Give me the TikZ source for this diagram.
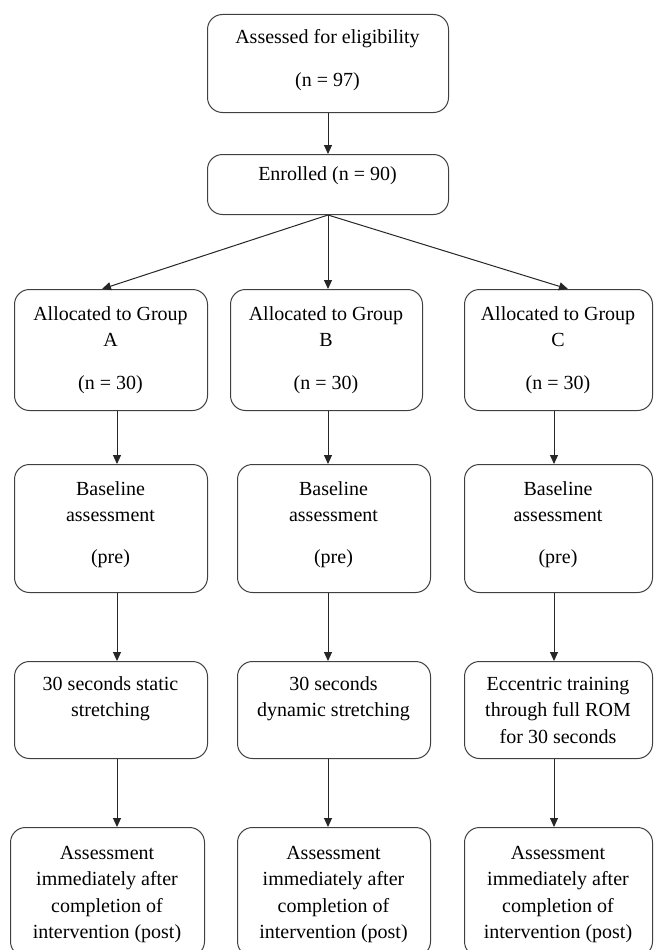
\documentclass[tikz,border=0pt]{standalone}
\usepackage{fontspec}
\setmainfont{Liberation Serif}
\newfontfamily\tnr{Liberation Serif}
\usetikzlibrary{arrows.meta,calc}
\tikzset{
  box/.style={draw=black!75, line width=1pt, rounded corners=15pt, inner sep=0pt, anchor=north west},
  txt/.style={inner sep=0pt, align=center, anchor=base, font=\tnr\fontsize{20}{26.5}\selectfont},
  arr/.style={draw=black!85, line width=1pt, -{Triangle[length=9pt,width=8pt]}}
}
\newcommand{\mybox}[5]{% name, x1, y1, x2, y2
  \path let \p1=(#2,#3), \p2=(#4,#5) in node[box, minimum width=\x2-\x1, minimum height=\y1-\y2] (#1) at (\p1) {};}
\begin{document}
\begin{tikzpicture}[x=1pt,y=-1pt]
\clip (0,0) rectangle (654,950);
\fill[white] (0,0) rectangle (654,950);
% boxes
\mybox{top}{207}{14}{448}{112}
\mybox{enr}{207}{154}{448}{214}
\mybox{gA}{14}{289}{207}{410}
\mybox{gB}{230}{289}{422}{410}
\mybox{gC}{464}{289}{652}{410}
\mybox{bA}{14}{464}{207}{592}
\mybox{bB}{237}{464}{430}{592}
\mybox{bC}{464}{464}{652}{592}
\mybox{iA}{14}{661}{207}{758}
\mybox{iB}{237}{661}{430}{758}
\mybox{iC}{464}{661}{652}{758}
\mybox{pA}{10}{827}{204}{956}
\mybox{pB}{237}{827}{430}{956}
\mybox{pC}{464}{827}{652}{956}
% texts (anchor = baseline of the last line)
\node[txt] (ttop) at (327.5,86) {Assessed for eligibility\\[16pt](n = 97)};
\node[txt] (tenr) at (327.5,180) {Enrolled (n = 90)};
\node[txt] (tgA) at (110.5,389.5) {Allocated to Group\\A\\[16.5pt](n = 30)};
\node[txt] (tgB) at (326,389.5) {Allocated to Group\\B\\[16.5pt](n = 30)};
\node[txt] (tgC) at (558,389.5) {Allocated to Group\\C\\[16.5pt](n = 30)};
\node[txt] (tbA) at (110.5,563.5) {Baseline\\assessment\\[15.5pt](pre)};
\node[txt] (tbB) at (333.5,563.5) {Baseline\\assessment\\[15.5pt](pre)};
\node[txt] (tbC) at (558,563.5) {Baseline\\assessment\\[15.5pt](pre)};
\node[txt] (tiA) at (110.5,716.5) {30 seconds static\\stretching};
\node[txt] (tiB) at (333.5,716.5) {30 seconds\\dynamic stretching};
\node[txt] (tiC) at (558,743) {Eccentric training\\through full ROM\\for 30 seconds};
\node[txt] (tpA) at (107,938.5) {Assessment\\immediately after\\completion of\\intervention (post)};
\node[txt] (tpB) at (333.5,938.5) {Assessment\\immediately after\\completion of\\intervention (post)};
\node[txt] (tpC) at (558,938.5) {Assessment\\immediately after\\completion of\\intervention (post)};
% arrow columns
\coordinate (xA) at (117,0);
\coordinate (xB) at (328,0);
\coordinate (xC) at (554,0);
\coordinate (dA) at (102,0);
\coordinate (dC) at (568,0);
\draw[arr] (top.south -| xB) -- (enr.north -| xB);
\draw[arr] (enr.south -| xB) -- (gA.north -| dA);
\draw[arr] (enr.south -| xB) -- (gB.north -| xB);
\draw[arr] (enr.south -| xB) -- (gC.north -| dC);
\foreach \c/\r in {A/xA,B/xB,C/xC}{
  \draw[arr] (g\c.south -| \r) -- (b\c.north -| \r);
  \draw[arr] (b\c.south -| \r) -- (i\c.north -| \r);
  \draw[arr] (i\c.south -| \r) -- (p\c.north -| \r);
}
\end{tikzpicture}
\end{document}
